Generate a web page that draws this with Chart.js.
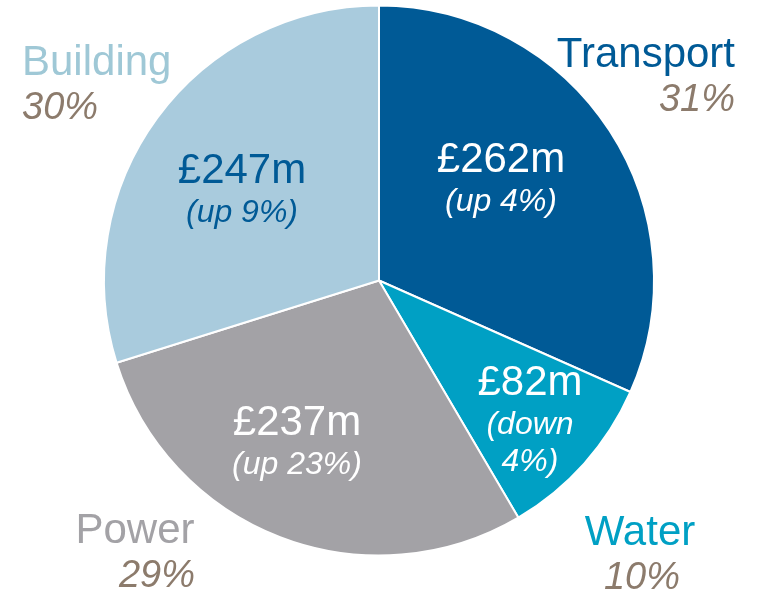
<!DOCTYPE html>
<html>
<head>
<meta charset="utf-8">
<script src="https://cdn.jsdelivr.net/npm/chart.js@4"></script>
<style>
  html, body { margin: 0; padding: 0; background: #fff; }
  #wrap { width: 763px; height: 595px; }
</style>
</head>
<body>
<div id="wrap"><canvas id="pieChart"></canvas></div>
<script>
// data
var sectors = ["Transport", "Water", "Power", "Building"];
var spend = [262, 82, 237, 247];
var shares = ["31%", "10%", "29%", "30%"];
var changes = [["(up 4%)"], ["(down", "4%)"], ["(up 23%)"], ["(up 9%)"]];

var sliceColours = ["#005a96", "#00a0c4", "#a3a2a6", "#a9cbdd"];
var nameColours = ["#005a96", "#00a0c4", "#a3a2a6", "#9fc8d6"];
var innerColours = ["#ffffff", "#ffffff", "#ffffff", "#005a96"];
var pctColour = "#8c7b6c";

// label placement, relative to the pie centre
var innerPos = [[122, -109], [151, 114], [-82, 154], [-137, -98]];
var outerPos = [
  { x: 356, y: -214, align: "right", px: 356, pAlign: "right" },
  { x: 261, y: 264, align: "center", px: 263, pAlign: "center" },
  { x: -244, y: 262, align: "center", px: -184, pAlign: "right" },
  { x: -357, y: -206, align: "left", px: -357, pAlign: "left" }
];

var labelPlugin = {
  id: "sliceLabels",
  afterDatasetsDraw: function (chart) {
    var ctx = chart.ctx;
    var arcs = chart.getDatasetMeta(0).data;
    var cx = arcs[0].x, cy = arcs[0].y;
    ctx.save();
    ctx.textBaseline = "alphabetic";
    arcs.forEach(function (arc, i) {
      // value + change inside the slice
      var ix = cx + innerPos[i][0], iy = cy + innerPos[i][1];
      ctx.textAlign = "center";
      ctx.fillStyle = innerColours[i];
      ctx.font = "42px 'Liberation Sans', Arial, sans-serif";
      ctx.fillText("£" + spend[i] + "m", ix, iy);
      ctx.font = "italic 32px 'Liberation Sans', Arial, sans-serif";
      changes[i].forEach(function (line, k) {
        ctx.fillText(line, ix, iy + 39 + k * 37);
      });

      // sector name + share outside
      var o = outerPos[i];
      ctx.textAlign = o.align;
      ctx.fillStyle = nameColours[i];
      ctx.font = "42px 'Liberation Sans', Arial, sans-serif";
      ctx.fillText(sectors[i], cx + o.x, cy + o.y);
      ctx.textAlign = o.pAlign;
      ctx.fillStyle = pctColour;
      ctx.font = "italic 38px 'Liberation Sans', Arial, sans-serif";
      ctx.fillText(shares[i], cx + o.px, cy + o.y + 44);
    });
    ctx.restore();
  }
};

var ctxPie = document.getElementById("pieChart").getContext("2d");
var pieChart = new Chart(ctxPie, {
  type: "pie",
  data: {
    labels: sectors,
    datasets: [
      {
        data: spend,
        backgroundColor: sliceColours,
        borderColor: "#ffffff",
        borderWidth: 2
      }
    ]
  },
  options: {
    responsive: true,
    maintainAspectRatio: false,
    animation: false,
    layout: {
      padding: { left: 103, right: 108, top: 4, bottom: 38 }
    },
    plugins: {
      legend: { display: false },
      tooltip: { enabled: false }
    }
  },
  plugins: [labelPlugin]
});
</script>
</body>
</html>
